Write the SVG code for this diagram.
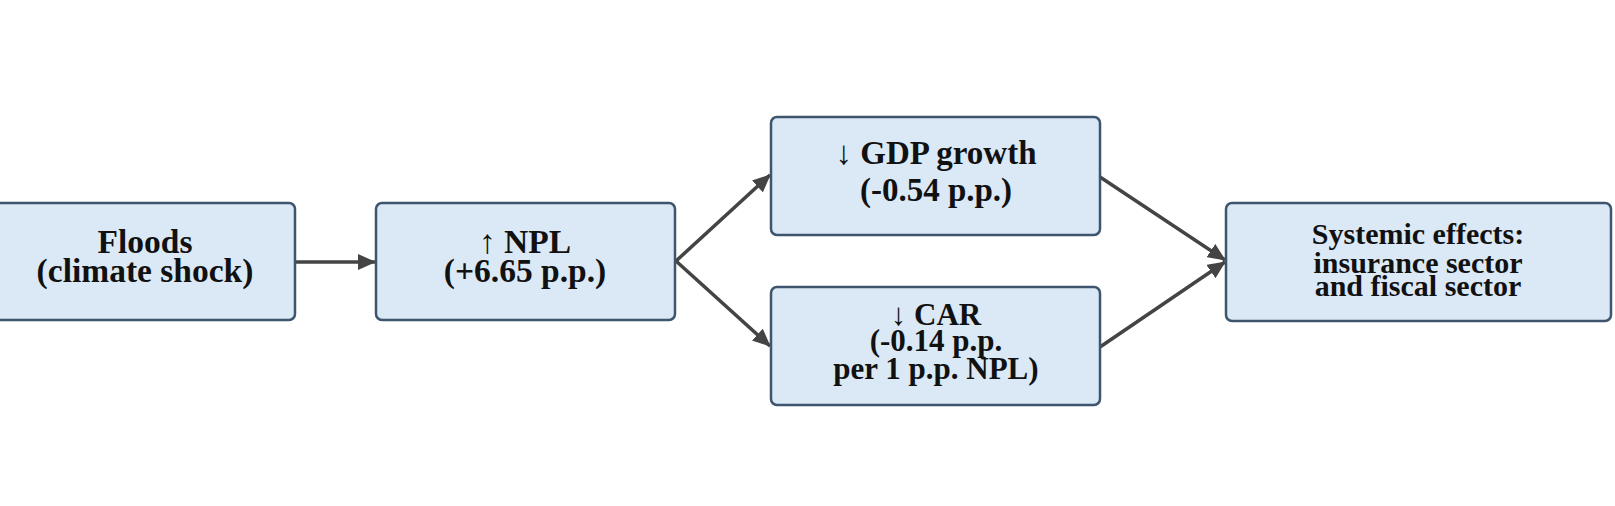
<svg xmlns="http://www.w3.org/2000/svg" width="1615" height="506" viewBox="0 0 1615 506">
<style>
.box{fill:#dbe9f6;stroke:#3e566d;stroke-width:2.5}
.t{font-family:"Liberation Serif","Times New Roman",serif;font-weight:bold;fill:#111;text-anchor:middle}
.e{stroke:#444;stroke-width:3.5;fill:none}
</style>
<defs>
<marker id="ah" markerUnits="userSpaceOnUse" markerWidth="18" markerHeight="16" refX="17" refY="8" orient="auto">
<path d="M0,0 L18,8 L0,16 Z" fill="#444"/>
</marker>
</defs>
<rect width="1615" height="506" fill="#fff"/>
<g id="connectors">
<line class="e" x1="296" y1="262" x2="375" y2="262" marker-end="url(#ah)"/>
<line class="e" x1="676" y1="261" x2="770" y2="175" marker-end="url(#ah)"/>
<line class="e" x1="676" y1="261" x2="770" y2="346" marker-end="url(#ah)"/>
<line class="e" x1="1100" y1="177" x2="1225" y2="260" marker-end="url(#ah)"/>
<line class="e" x1="1100" y1="347" x2="1225" y2="262" marker-end="url(#ah)"/>
</g>
<g id="floods">
<rect class="box" x="-6" y="203" width="301" height="117" rx="6"/>
<text class="t" font-size="33.5" x="145" y="253">Floods</text>
<text class="t" font-size="33.5" x="145" y="282">(climate shock)</text>
</g>
<g id="npl">
<rect class="box" x="376" y="203" width="299" height="117" rx="6"/>
<text class="t" font-size="33.5" x="525" y="253">↑ NPL</text>
<text class="t" font-size="33.5" x="525" y="282">(+6.65 p.p.)</text>
</g>
<g id="gdp">
<rect class="box" x="771" y="117" width="329" height="118" rx="6"/>
<text class="t" font-size="33" x="936" y="164">↓ GDP growth</text>
<text class="t" font-size="33" x="936" y="201">(-0.54 p.p.)</text>
</g>
<g id="car">
<rect class="box" x="771" y="287" width="329" height="118" rx="6"/>
<text class="t" font-size="31" x="936" y="325">↓ CAR</text>
<text class="t" font-size="31" x="936" y="351">(-0.14 p.p.</text>
<text class="t" font-size="31" x="936" y="379">per 1 p.p. NPL)</text>
</g>
<g id="systemic">
<rect class="box" x="1226" y="203" width="385" height="118" rx="6"/>
<text class="t" font-size="30" x="1418" y="244">Systemic effects:</text>
<text class="t" font-size="30" x="1418" y="273">insurance sector</text>
<text class="t" font-size="30" x="1418" y="296">and fiscal sector</text>
</g>
</svg>
